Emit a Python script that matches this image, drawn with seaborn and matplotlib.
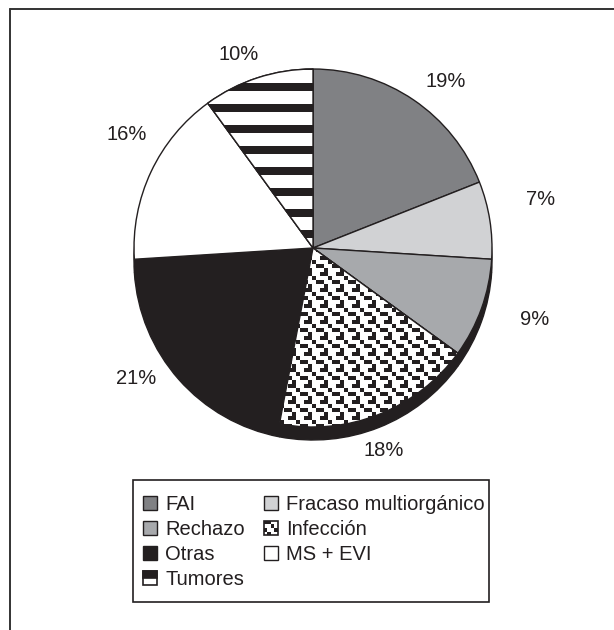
import numpy as np
import matplotlib
matplotlib.use("Agg")
import matplotlib.pyplot as plt
import seaborn as sns
from matplotlib.patches import Rectangle, Wedge
from matplotlib.lines import Line2D
from matplotlib.colors import ListedColormap
from matplotlib.legend_handler import HandlerBase


# ---------------------------------
# DATA
# ---------------------------------

categories = ["FAI", "Fracaso multiorgánico", "Rechazo", "Infección",
              "Otras", "MS + EVI", "Tumores"]
percentages = [19, 7, 9, 18, 21, 16, 10]
slice_colors = ["#808184", "#d1d2d4", "#a7a9ac", "#ffffff",
                "#231f20", "#ffffff", "#ffffff"]
legend_order = ["FAI", "Rechazo", "Otras", "Tumores",
                "Fracaso multiorgánico", "Infección", "MS + EVI"]

# label placement tweaks (radius factor, angle shift in degrees)
label_radius = [1.19, 1.30, 1.30, 1.20, 1.23, 1.22, 1.16]
label_shift = [-4.5, 3, 2, -2.5, -5, -6, 3]


# ---------------------------------
# STYLE
# ---------------------------------

INK = "#231f20"
W, H = 614, 630
R_PX = 179
CX, CY = 313, 248  # pie centre in pixels from the top-left corner
FONT_SIZE = 14.5

CHECK_TILE = np.array([[1, 1, 0, 0],
                       [0, 0, 1, 0],
                       [1, 0, 0, 1],
                       [0, 1, 0, 0]])

sns.set_theme(style="white")
plt.rcParams["font.family"] = ["Liberation Sans", "DejaVu Sans"]


class StripeHandler(HandlerBase):
    def create_artists(self, legend, orig_handle, xdescent, ydescent,
                       width, height, fontsize, trans):
        x0, y0 = -xdescent, -ydescent
        base = Rectangle((x0, y0), width, height, fc="white", ec=INK,
                         lw=1.2, transform=trans)
        top = Rectangle((x0, y0 + height / 2), width, height / 2, fc=INK,
                        ec=INK, lw=1.2, transform=trans)
        return [base, top]


class CheckHandler(HandlerBase):
    def create_artists(self, legend, orig_handle, xdescent, ydescent,
                       width, height, fontsize, trans):
        x0, y0 = -xdescent, -ydescent
        artists = [Rectangle((x0, y0), width, height, fc="white", ec=INK,
                             lw=1.2, transform=trans)]
        n = CHECK_TILE.shape[0]
        cw, ch = width / n, height / n
        for i in range(n):
            for j in range(n):
                if CHECK_TILE[i, j]:
                    artists.append(Rectangle((x0 + j * cw, y0 + height - (i + 1) * ch),
                                             cw, ch, fc=INK, ec="none",
                                             transform=trans))
        return artists


def texture(ax, arr, wedge, extent):
    im = ax.imshow(arr, cmap=ListedColormap(["white", INK]), vmin=0, vmax=1,
                   extent=extent, origin="upper", interpolation="nearest",
                   zorder=2)
    im.set_clip_path(wedge)
    outline = Wedge(wedge.center, wedge.r, wedge.theta1, wedge.theta2,
                    fill=False, ec=INK, lw=1, zorder=3)
    ax.add_patch(outline)


# ---------------------------------
# PLOT
# ---------------------------------

fig = plt.figure(figsize=(W / 100, H / 100), dpi=100)
ax = fig.add_axes([0, 0, 1, 1])

xlim = ((0 - CX) / R_PX, (W - CX) / R_PX)
ylim = ((CY - H) / R_PX, CY / R_PX)

# 3D-like shadow below the pie
ax.pie(percentages, colors=[INK] * len(percentages), startangle=90,
       counterclock=False, center=(0.0, -13 / R_PX),
       wedgeprops=dict(edgecolor=INK, linewidth=1))

wedges, texts, autotexts = ax.pie(
    percentages, colors=slice_colors, startangle=90, counterclock=False,
    autopct=lambda p: f"{p:.0f}%", pctdistance=1.22,
    wedgeprops=dict(edgecolor=INK, linewidth=1),
    textprops=dict(fontsize=FONT_SIZE, color=INK))

# nudge the percentage labels to where the original puts them
for w, t, rf, sh in zip(wedges, autotexts, label_radius, label_shift):
    ang = np.deg2rad((w.theta1 + w.theta2) / 2 + sh)
    t.set_position((rf * np.cos(ang), rf * np.sin(ang)))

extent = (xlim[0], xlim[1], ylim[0], ylim[1])
ys = (CY - np.arange(H) - 0.5) / R_PX
stripe_rows = (((ys - 10 / R_PX) % (21 / R_PX)) < 8 / R_PX).astype(int)
stripes = np.repeat(stripe_rows[:, None], W, axis=1)
rows = (np.arange(H) // 4) % 4
cols = (np.arange(W) // 4) % 4
checks = CHECK_TILE[rows[:, None], cols[None, :]]

idx = {c: i for i, c in enumerate(categories)}
texture(ax, stripes, wedges[idx["Tumores"]], extent)
texture(ax, checks, wedges[idx["Infección"]], extent)

ax.set_xlim(*xlim)
ax.set_ylim(*ylim)
ax.set_aspect("equal")
ax.axis("off")

# legend
handles = [wedges[idx[c]] for c in legend_order]
fig.legend(handles, legend_order, ncol=2, loc="upper left",
           bbox_to_anchor=(143 / W, 1 - 495 / H), frameon=False,
           borderpad=0, borderaxespad=0, fontsize=FONT_SIZE,
           handlelength=0.7, handleheight=0.7, handletextpad=0.4,
           labelspacing=0.3, columnspacing=0.95,
           labelcolor=INK,
           handler_map={wedges[idx["Tumores"]]: StripeHandler(),
                        wedges[idx["Infección"]]: CheckHandler()})
fig.add_artist(Rectangle((133 / W, 1 - 602 / H), (489 - 133) / W, (602 - 480) / H,
                         transform=fig.transFigure, fill=False, ec=INK, lw=1.2))

# outer frame (top and left only)
fig.add_artist(Line2D([10 / W, 10 / W], [0, 1 - 9 / H], color="#333333", lw=1.4))
fig.add_artist(Line2D([10 / W, 1], [1 - 9 / H, 1 - 9 / H], color="#333333", lw=1.4))

fig.savefig("out.png", dpi=100)
